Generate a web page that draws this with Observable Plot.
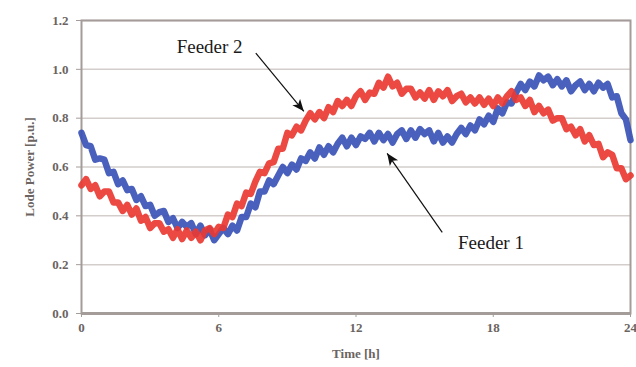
<!DOCTYPE html>
<html><head><meta charset="utf-8">
<script src="https://cdn.jsdelivr.net/npm/d3@7"></script>
<script src="https://cdn.jsdelivr.net/npm/@observablehq/plot@0.6"></script>
<style>body{margin:0;background:#fff}</style>
</head><body><div id="chart"></div>
<script>
// Sampling times (every 0.2 h)
const hours = d3.range(121).map(i => Math.round(i * 2) / 10);

// Feeder 1 (blue) load power, p.u.
const feeder1 = [
0.74,0.69,0.685,0.63,0.635,0.63,0.575,0.58,0.53,0.545,0.505,0.51,0.465,0.48,0.44,0.445,0.40,0.415,0.42,0.375,
0.39,0.35,0.375,0.355,0.37,0.325,0.36,0.32,0.345,0.30,0.325,0.35,0.325,0.36,0.34,0.395,0.395,0.45,0.435,0.50,
0.50,0.545,0.53,0.565,0.60,0.575,0.61,0.59,0.635,0.625,0.66,0.635,0.68,0.65,0.685,0.66,0.695,0.72,0.685,0.72,
0.69,0.725,0.715,0.74,0.705,0.74,0.71,0.735,0.70,0.735,0.75,0.715,0.75,0.72,0.755,0.735,0.75,0.705,0.74,0.70,
0.725,0.70,0.735,0.76,0.735,0.77,0.75,0.795,0.775,0.81,0.785,0.84,0.82,0.865,0.86,0.905,0.94,0.915,0.95,0.93,
0.975,0.955,0.97,0.935,0.96,0.93,0.955,0.91,0.935,0.95,0.915,0.94,0.91,0.945,0.925,0.94,0.885,0.89,0.82,0.795,
0.71];

// Feeder 2 (red) load power, p.u.
const feeder2 = [
0.525,0.55,0.51,0.525,0.48,0.50,0.50,0.455,0.455,0.42,0.445,0.405,0.43,0.38,0.395,0.35,0.37,0.37,0.335,0.345,
0.31,0.345,0.305,0.34,0.31,0.335,0.30,0.34,0.35,0.325,0.355,0.35,0.405,0.395,0.45,0.44,0.495,0.49,0.54,0.58,
0.575,0.615,0.62,0.675,0.675,0.74,0.73,0.765,0.75,0.79,0.82,0.795,0.825,0.80,0.845,0.825,0.87,0.85,0.875,0.85,
0.89,0.91,0.875,0.905,0.90,0.945,0.925,0.97,0.93,0.945,0.90,0.92,0.92,0.885,0.905,0.88,0.915,0.875,0.91,0.89,
0.915,0.87,0.89,0.90,0.865,0.885,0.86,0.885,0.855,0.88,0.85,0.885,0.86,0.89,0.91,0.875,0.885,0.85,0.875,0.825,
0.85,0.82,0.835,0.79,0.80,0.80,0.755,0.765,0.73,0.755,0.705,0.73,0.69,0.695,0.64,0.66,0.65,0.595,0.595,0.55,
0.565];

const xTicks = [0, 6, 12, 18, 24];
const yTicks = [0, 0.2, 0.4, 0.6, 0.8, 1.0, 1.2];
const xTitle = "Time [h]";
const yTitle = "Lode Power [p.u.]";

// Annotations (data units)
const noteNames = ["Feeder 2", "Feeder 1"];
const noteT = [5.6, 17.9];
const noteV = [1.09, 0.29];
const arrowT1 = [7.62, 15.77];
const arrowV1 = [1.066, 0.332];
const arrowT2 = [9.72, 13.36];
const arrowV2 = [0.828, 0.656];

const rows1 = hours.map((t, i) => ({t, v: feeder1[i]}));
const rows2 = hours.map((t, i) => ({t, v: feeder2[i]}));
const notes = noteNames.map((n, i) => ({n, t: noteT[i], v: noteV[i]}));
const arrows = noteNames.map((n, i) => ({x1: arrowT1[i], y1: arrowV1[i], x2: arrowT2[i], y2: arrowV2[i]}));

const gray = "#a39c99";
const chart = Plot.plot({
  width: 636,
  height: 367,
  marginLeft: 81,
  marginRight: 6,
  marginTop: 20,
  marginBottom: 54,
  style: {fontFamily: "'Liberation Serif', serif", fontSize: "13px", color: "#6b6461", background: "#fff"},
  x: {domain: [0, 24]},
  y: {domain: [0, 1.2]},
  marks: [
    Plot.gridY(yTicks, {stroke: "#d3cecb", strokeOpacity: 1, strokeWidth: 1.5}),
    Plot.frame({stroke: gray, strokeWidth: 2}),
    Plot.ruleY([0], {stroke: gray, strokeWidth: 3}),
    Plot.axisY(yTicks, {tickFormat: d3.format(".1f"), tickSize: 5, tickPadding: 8, fontWeight: "bold",
      stroke: gray, label: yTitle, labelAnchor: "center", labelOffset: 57}),
    Plot.axisX(xTicks, {tickSize: 4, tickPadding: 5, fontWeight: "bold", stroke: gray,
      label: xTitle, labelAnchor: "center", labelOffset: 44}),
    Plot.line(rows1, {x: "t", y: "v", stroke: "#3a52b6", strokeWidth: 6.5, strokeLinejoin: "round", strokeOpacity: 0.92, className: "noisy"}),
    Plot.line(rows2, {x: "t", y: "v", stroke: "#ea3a33", strokeWidth: 6.5, strokeLinejoin: "round", strokeOpacity: 0.92, className: "noisy"}),
    Plot.link(arrows, {x1: "x1", y1: "y1", x2: "x2", y2: "y2", stroke: "#111", strokeWidth: 1.2, markerEnd: "arrow"}),
    Plot.text(notes, {x: "t", y: "v", text: "n", fontSize: 19, fill: "#1a1a1a", fontFamily: "'Liberation Serif', serif"})
  ]
});

// Filled arrow heads
chart.querySelectorAll("marker").forEach(m => {
  m.setAttribute("viewBox", "-12 -6 12 12");
  m.setAttribute("markerWidth", "12");
  m.setAttribute("markerHeight", "12");
  m.setAttribute("markerUnits", "userSpaceOnUse");
  m.setAttribute("fill", "#111");
  m.setAttribute("stroke", "none");
  m.innerHTML = '<path d="M-12,-5L0,0L-12,5L-9,0Z"></path>';
});
// axis titles: no arrows, bold
chart.querySelectorAll("[aria-label='y-axis label'] text, [aria-label='x-axis label'] text").forEach(t => {
  t.setAttribute("font-weight", "bold");
  t.textContent = t.textContent.replace(/\s*[↑→↓←]\s*/g, "").trim();
});
chart.querySelectorAll("g.noisy, .noisy path").forEach(g => g.style.filter = "blur(0.5px)");
document.getElementById("chart").appendChild(chart);
</script>
</body></html>
